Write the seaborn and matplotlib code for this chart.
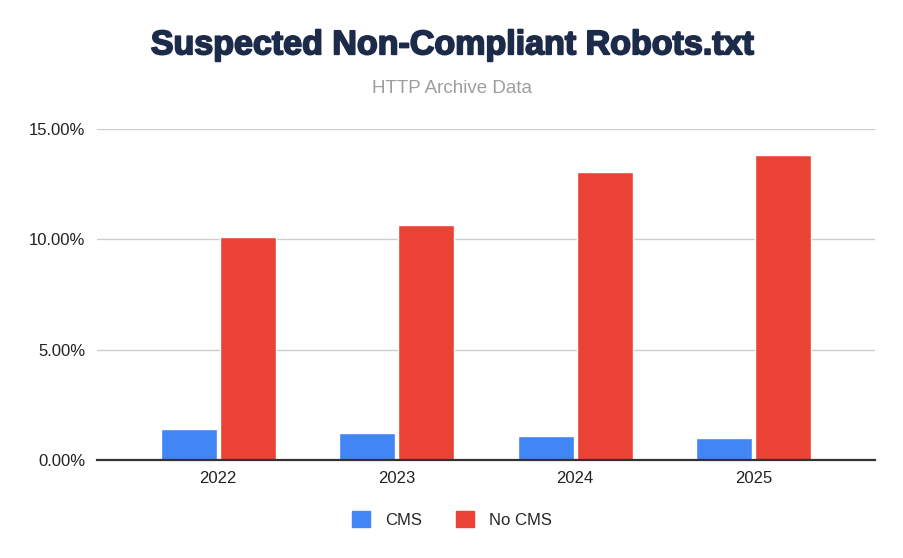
import pandas as pd
import numpy as np
import matplotlib.pyplot as plt
import matplotlib.patheffects as pe
import seaborn as sns
from matplotlib.ticker import FuncFormatter

years = ['2022', '2023', '2024', '2025']
cms = [1.41, 1.22, 1.10, 1.01]
no_cms = [10.12, 10.66, 13.04, 13.80]
groups = ['CMS', 'No CMS']
colors = ['#4285F4', '#EA4335']

df = pd.DataFrame({
    'year': years * 2,
    'value': cms + no_cms,
    'group': [groups[0]] * len(years) + [groups[1]] * len(years),
})

sns.set_theme(style='white')
plt.rcParams['font.family'] = ['Liberation Sans', 'DejaVu Sans']

fig = plt.figure(figsize=(9.04, 5.58), dpi=100)
ax = fig.add_axes([0.107, 0.1756, 0.861, 0.5934])

sns.barplot(data=df, x='year', y='value', hue='group', palette=colors,
            saturation=1, width=0.66, gap=0.05, ax=ax, legend=False)

ax.set_ylim(0, 15)
ax.set_xlim(-0.68, 3.68)
ax.set_yticks([0, 5, 10, 15])
ax.yaxis.set_major_formatter(FuncFormatter(lambda v, p: f'{v:.2f}%'))
ax.grid(axis='y', color='#cccccc', linewidth=1)
ax.set_axisbelow(True)
for s in ['top', 'right', 'left']:
    ax.spines[s].set_visible(False)
ax.spines['bottom'].set_color('#333333')
ax.spines['bottom'].set_linewidth(1.6)
ax.tick_params(axis='both', length=0, labelsize=12, colors='#222222', pad=8)
ax.set_xlabel('')
ax.set_ylabel('')

fig.text(0.5, 0.918, 'Suspected Non-Compliant Robots.txt', ha='center', va='center',
         fontsize=24.5, fontweight='bold', color='#1c2b4a',
         path_effects=[pe.withStroke(linewidth=1.3, foreground='#1c2b4a')])
fig.text(0.5, 0.842, 'HTTP Archive Data', ha='center', va='center',
         fontsize=13.5, color='#9e9e9e')

handles = [plt.Rectangle((0, 0), 1, 1, color=c) for c in colors]
fig.legend(handles, groups, loc='center', bbox_to_anchor=(0.5, 0.069), ncol=2,
           frameon=False, fontsize=12, handlelength=1.1, handleheight=1.1,
           columnspacing=2.0, handletextpad=0.9)

fig.savefig('out.png', dpi=100)
